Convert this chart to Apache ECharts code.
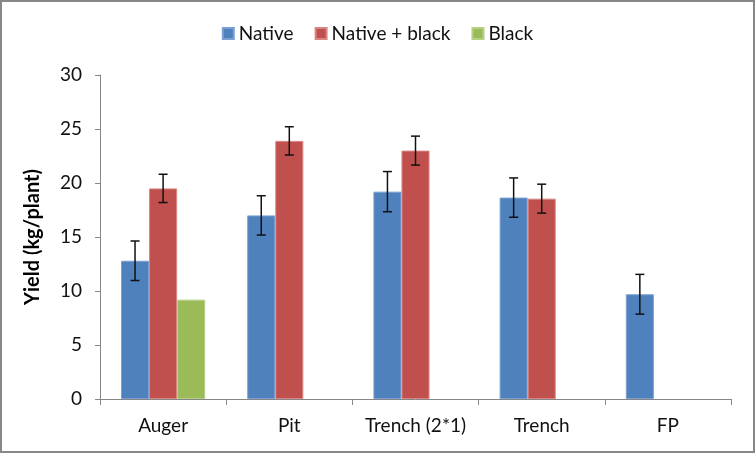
<!DOCTYPE html>
<html>
<head>
<meta charset="utf-8">
<script src="https://cdn.jsdelivr.net/npm/echarts@6/dist/echarts.min.js"></script>
<style>
html,body{margin:0;padding:0;background:#fff;}
#c{width:755px;height:453px;}
</style>
</head>
<body>
<div id="c"></div>
<script>
const categories = ['Auger', 'Pit', 'Trench (2*1)', 'Trench', 'FP'];
const seriesNames = ['Native', 'Native + black', 'Black'];
const nativeVals = [12.8, 17.0, 19.2, 18.65, 9.7];
const nativeBlackVals = [19.5, 23.9, 23.0, 18.55, null];
const blackVals = [9.2, null, null, null, null];
const nativeErr = [1.83, 1.82, 1.86, 1.82, 1.84];
const nativeBlackErr = [1.31, 1.31, 1.34, 1.34, null];
const blackErr = [null, null, null, null, null];
const yTicks = [0, 5, 10, 15, 20, 25, 30];

const colors = ['#4F81BD', '#C0504D', '#9BBB59'];
const borderColors = ['#7AA0D4', '#D98583', '#B5CF83'];
const values = [nativeVals, nativeBlackVals, blackVals];
const errs = [nativeErr, nativeBlackErr, blackErr];
const font = 'Lato, "Open Sans", sans-serif';
const gapPct = 0.333;

const chart = echarts.init(document.getElementById('c'), null, {renderer: 'canvas'});

const series = [];
values.forEach((v, i) => {
  series.push({
    name: seriesNames[i],
    type: 'bar',
    data: v,
    barGap: '0%',
    barCategoryGap: '33.3%',
    itemStyle: {color: colors[i], borderColor: borderColors[i], borderWidth: 1},
    emphasis: {disabled: true}
  });
});
errs.forEach((e, i) => {
  const data = [];
  e.forEach((err, k) => {
    if (err != null && values[i][k] != null) data.push([k, values[i][k] - err, values[i][k] + err]);
  });
  series.push({
    type: 'custom',
    name: seriesNames[i] + ' err',
    data: data,
    z: 10,
    silent: true,
    renderItem: function (params, api) {
      const k = api.value(0);
      const lo = api.coord([k, api.value(1)]);
      const hi = api.coord([k, api.value(2)]);
      const band = api.size([1, 0])[0];
      const barW = band * (1 - gapPct) / 3;
      const x = lo[0] + (i - 1) * barW;
      const cap = 4.5;
      const style = {stroke: '#111', lineWidth: 1.5};
      return {
        type: 'group',
        children: [
          {type: 'line', shape: {x1: x, y1: lo[1], x2: x, y2: hi[1]}, style: style},
          {type: 'line', shape: {x1: x - cap, y1: lo[1], x2: x + cap, y2: lo[1]}, style: style},
          {type: 'line', shape: {x1: x - cap, y1: hi[1], x2: x + cap, y2: hi[1]}, style: style}
        ]
      };
    },
    encode: {x: 0, y: [1, 2]}
  });
});

chart.setOption({
  animation: false,
  backgroundColor: '#fff',
  graphic: [{
    type: 'rect',
    shape: {x: 1, y: 1, width: 753, height: 451},
    style: {fill: 'none', stroke: '#878787', lineWidth: 2},
    silent: true, z: 100
  }],
  legend: {
    top: 19,
    left: 'center',
    data: seriesNames,
    icon: 'rect',
    itemWidth: 11,
    itemHeight: 11,
    itemGap: 21,
    textStyle: {fontFamily: font, fontSize: 19, color: '#111'}
  },
  grid: {left: 100, right: 24, top: 75, bottom: 54},
  xAxis: {
    type: 'category',
    data: categories,
    axisLine: {lineStyle: {color: '#868686', width: 1}},
    axisTick: {show: true, length: 6, interval: 0, lineStyle: {color: '#868686'}},
    axisLabel: {fontFamily: font, fontSize: 19, color: '#111', margin: 17, interval: 0, hideOverlap: false}
  },
  yAxis: {
    type: 'value',
    min: yTicks[0],
    max: yTicks[yTicks.length - 1],
    interval: 5,
    name: 'Yield (kg/plant)',
    nameLocation: 'middle',
    nameGap: 57,
    nameTextStyle: {fontFamily: font, fontSize: 20, fontWeight: 'bold', color: '#000'},
    axisLine: {show: true, lineStyle: {color: '#868686'}},
    axisTick: {show: true, length: 5, lineStyle: {color: '#868686'}},
    splitLine: {show: false},
    axisLabel: {fontFamily: font, fontSize: 19, color: '#111', margin: 18}
  },
  series: series
});
</script>
</body>
</html>
